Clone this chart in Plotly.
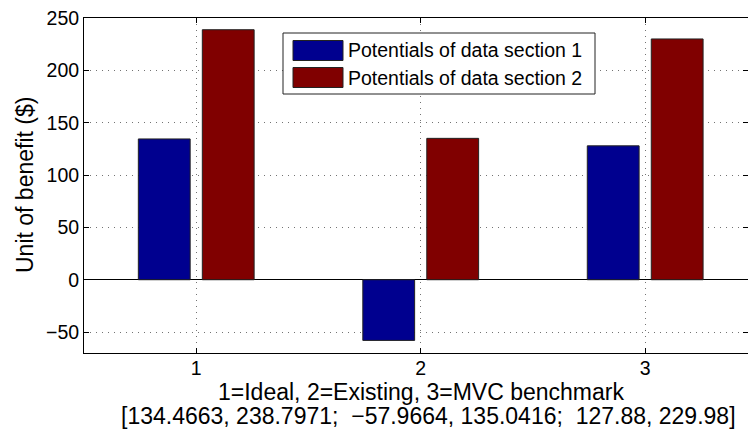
import plotly.graph_objects as go

# Data
categories = [1, 2, 3]
tick_labels = ["1", "2", "3"]
section1 = [134.4663, -57.9664, 127.88]
section2 = [238.7971, 135.0416, 229.98]
series_names = ["Potentials of data section 1", "Potentials of data section 2"]
series_colors = ["#00008F", "#800000"]
y_ticks = [-50, 0, 50, 100, 150, 200, 250]
x_label = "1=Ideal, 2=Existing, 3=MVC benchmark"
y_label = "Unit of benefit ($)"

W, H = 748, 438
L, R, T, B = 84, 0, 18, 85
FONT = "Liberation Sans, Arial, Helvetica, sans-serif"
FS = 19.5          # tick labels and legend
FS_LABEL = 23      # axis labels

plot_w = W - L - R
plot_h = H - T - B


def px_x(x):
    return (x - L) / plot_w


def px_y(y):
    return (H - B - y) / plot_h


def fmt(v):
    return str(v).replace("-", "\u2212")


pairs = [f"{fmt(a)}, {fmt(b)}" for a, b in zip(section1, section2)]
values_line = "[" + ";\u00a0 ".join(pairs) + "]"

fig = go.Figure()
for name, vals, col in zip(series_names, [section1, section2], series_colors):
    fig.add_trace(go.Bar(
        x=categories, y=vals, name=name,
        marker=dict(color=col, line=dict(color="#222222", width=1)),
        showlegend=False,
    ))

axis_common = dict(
    showline=True, linecolor="black", linewidth=1, mirror="ticks",
    ticks="inside", ticklen=5, tickcolor="black", tickwidth=1,
    showgrid=True, gridcolor="rgba(0,0,0,0.55)", gridwidth=1, griddash="1px,5px",
    tickfont=dict(family=FONT, size=FS, color="black"),
)

fig.update_layout(
    width=W, height=H,
    margin=dict(l=L, r=R, t=T, b=B, pad=0),
    paper_bgcolor="white", plot_bgcolor="white",
    barmode="group", bargap=0.43, bargroupgap=0.19,
    font=dict(family=FONT, size=FS, color="black"),
    xaxis=dict(
        range=[0.5, 3.458], tickvals=categories, ticktext=tick_labels,
        zeroline=False, ticklabelstandoff=-2, **axis_common,
    ),
    yaxis=dict(
        range=[-70, 250], tickvals=y_ticks,
        zeroline=True, zerolinecolor="black", zerolinewidth=1,
        **axis_common,
    ),
)

label_font = dict(family=FONT, size=FS_LABEL, color="black")
annotations = [
    dict(xref="paper", yref="paper", x=px_x(421), y=px_y(392), text=x_label,
         showarrow=False, xanchor="center", yanchor="middle", font=label_font,
         borderpad=0),
    dict(xref="paper", yref="paper", x=px_x(428), y=px_y(416), text=values_line,
         showarrow=False, xanchor="center", yanchor="middle", font=label_font,
         borderpad=0),
    dict(xref="paper", yref="paper", x=px_x(25), y=px_y(185), text=y_label,
         textangle=-90, showarrow=False, xanchor="center", yanchor="middle",
         font=label_font),
]

# Legend box with swatches
shapes = [dict(
    type="rect", xref="paper", yref="paper",
    x0=px_x(283), x1=px_x(595), y0=px_y(94), y1=px_y(33),
    line=dict(color="#222222", width=1), fillcolor="white", layer="above",
)]
swatch_tops = [40.5, 67.5]
for name, col, top in zip(series_names, series_colors, swatch_tops):
    shapes.append(dict(
        type="rect", xref="paper", yref="paper",
        x0=px_x(293), x1=px_x(343), y0=px_y(top + 20), y1=px_y(top),
        line=dict(color="#222222", width=1), fillcolor=col, layer="above",
    ))
    annotations.append(dict(
        xref="paper", yref="paper", x=px_x(346), y=px_y(top + 10),
        text=name, showarrow=False, xanchor="left", yanchor="middle",
        font=dict(family=FONT, size=FS, color="black"),
    ))
fig.update_layout(shapes=shapes, annotations=annotations)

fig.write_html("out.html")
